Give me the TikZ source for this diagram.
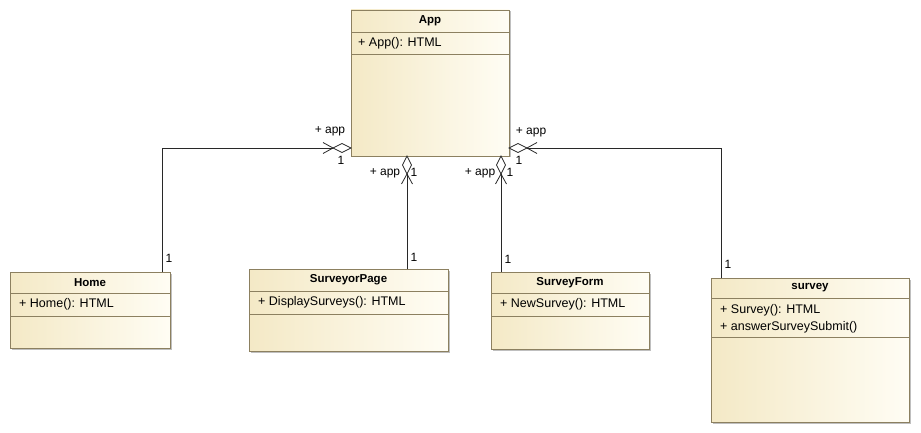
\documentclass[tikz,border=0pt]{standalone}
\usepackage{fontspec}
\setmainfont{Liberation Sans}
\usetikzlibrary{calc,shadows}
\definecolor{boxline}{RGB}{140,128,96}
\definecolor{creamL}{RGB}{244,233,198}
\definecolor{creamR}{RGB}{255,253,244}
\definecolor{connc}{RGB}{40,40,40}
\tikzset{
 cls/.style={draw=boxline, line width=0.9pt, left color=creamL, right color=creamR, anchor=north west, inner sep=0pt, outer sep=0pt,
   drop shadow={shadow xshift=1.5pt,shadow yshift=-1.5pt,opacity=0.25,fill=black}},
 divl/.style={draw=boxline, line width=0.9pt},
 ttl/.style={font=\bfseries\fontsize{11.5}{13}\selectfont, inner sep=0pt},
 mth/.style={font=\fontsize{12.5}{14}\selectfont, anchor=west, inner sep=0pt},
 lbl/.style={font=\fontsize{12}{14}\selectfont, inner sep=0pt},
 conn/.style={line width=0.8pt, draw=connc},
}
\begin{document}
\begin{tikzpicture}[x=1pt,y=-1pt]
\useasboundingbox (0,0) rectangle (921,433);
\fill[white] (0,0) rectangle (921,433);

% App
\node[cls, minimum width=158pt, minimum height=146pt] (app) at (351,10) {};
\draw[divl] ($(app.north west)+(0,22)$) -- ($(app.north east)+(0,22)$);
\draw[divl] ($(app.north west)+(0,44)$) -- ($(app.north east)+(0,44)$);
\node[ttl] (appT) at ($(app.north)+(0,11)$) {App};
\node[mth] (appM) at ($(app.north west)+(7,33)$) {+ App(): HTML};

% Home
\node[cls, minimum width=160pt, minimum height=76pt] (home) at (10,272) {};
\draw[divl] ($(home.north west)+(0,21)$) -- ($(home.north east)+(0,21)$);
\draw[divl] ($(home.north west)+(0,44)$) -- ($(home.north east)+(0,44)$);
\node[ttl] (homeT) at ($(home.north)+(0,10.5)$) {Home};
\node[mth] (homeM) at ($(home.north west)+(9,32)$) {+ Home(): HTML};

% SurveyorPage
\node[cls, minimum width=199pt, minimum height=82pt] (sp) at (249,269) {};
\draw[divl] ($(sp.north west)+(0,22)$) -- ($(sp.north east)+(0,22)$);
\draw[divl] ($(sp.north west)+(0,45)$) -- ($(sp.north east)+(0,45)$);
\node[ttl] (spT) at ($(sp.north)+(0,11)$) {SurveyorPage};
\node[mth] (spM) at ($(sp.north west)+(9,33)$) {+ DisplaySurveys(): HTML};

% SurveyForm
\node[cls, minimum width=158pt, minimum height=77pt] (sf) at (491,272) {};
\draw[divl] ($(sf.north west)+(0,21)$) -- ($(sf.north east)+(0,21)$);
\draw[divl] ($(sf.north west)+(0,44)$) -- ($(sf.north east)+(0,44)$);
\node[ttl] (sfT) at ($(sf.north)+(0,10.5)$) {SurveyForm};
\node[mth] (sfM) at ($(sf.north west)+(9,32)$) {+ NewSurvey(): HTML};

% survey
\node[cls, minimum width=198pt, minimum height=144pt] (sv) at (711,278) {};
\draw[divl] ($(sv.north west)+(0,20)$) -- ($(sv.north east)+(0,20)$);
\draw[divl] ($(sv.north west)+(0,59)$) -- ($(sv.north east)+(0,59)$);
\node[ttl] (svT) at ($(sv.north)+(0,10)$) {survey};
\node[mth] (svM1) at ($(sv.north west)+(9,32)$) {+ Survey(): HTML};
\node[mth] (svM2) at ($(sv.north west)+(9,49)$) {+ answerSurveySubmit()};

% attachment points on App
\coordinate (aL) at ($(app.south west)+(0,-8)$);
\coordinate (aR) at ($(app.south east)+(0,-8)$);
\coordinate (aB1) at ($(app.south west)+(56,0)$);
\coordinate (aB2) at ($(app.south west)+(150,0)$);

% left: Home
\draw[conn] ($(home.north east)+(-8,0)$) |- ($(aL)+(-18,0)$);
\draw[conn, fill=white] (aL) -- ++(-9,-4.5) -- ++(-9,4.5) -- ++(9,4.5) -- cycle;
\draw[conn] ($(aL)+(-28,-5.5)$) -- ($(aL)+(-18,0)$) -- ($(aL)+(-28,5.5)$);

% right: survey
\draw[conn] ($(sv.north west)+(10,0)$) |- ($(aR)+(18,0)$);
\draw[conn, fill=white] (aR) -- ++(9,-4.5) -- ++(9,4.5) -- ++(-9,4.5) -- cycle;
\draw[conn] ($(aR)+(28,-5.5)$) -- ($(aR)+(18,0)$) -- ($(aR)+(28,5.5)$);

% SurveyorPage
\draw[conn] (sp.north -| aB1) -- ($(aB1)+(0,18)$);
\draw[conn, fill=white] (aB1) -- ++(-4.5,9) -- ++(4.5,9) -- ++(4.5,-9) -- cycle;
\draw[conn] ($(aB1)+(-5.5,28)$) -- ($(aB1)+(0,18)$) -- ($(aB1)+(5.5,28)$);

% SurveyForm
\draw[conn] (sf.north -| aB2) -- ($(aB2)+(0,18)$);
\draw[conn, fill=white] (aB2) -- ++(-4.5,9) -- ++(4.5,9) -- ++(4.5,-9) -- cycle;
\draw[conn] ($(aB2)+(-5.5,28)$) -- ($(aB2)+(0,18)$) -- ($(aB2)+(5.5,28)$);

% labels
\node[lbl] (l1) at (330,131) {+ app};
\node[lbl] (l2) at (341,160) {1};
\node[lbl] (l3) at (531,132) {+ app};
\node[lbl] (l4) at (519,160) {1};
\node[lbl] (l5) at (385,173) {+ app};
\node[lbl] (l6) at (414,172) {1};
\node[lbl] (l7) at (480,173) {+ app};
\node[lbl] (l8) at (510,172) {1};
\node[lbl] (l9) at (169,258) {1};
\node[lbl] (l10) at (414,257) {1};
\node[lbl] (l11) at (508,259) {1};
\node[lbl] (l12) at (728,264) {1};
\end{tikzpicture}
\end{document}
